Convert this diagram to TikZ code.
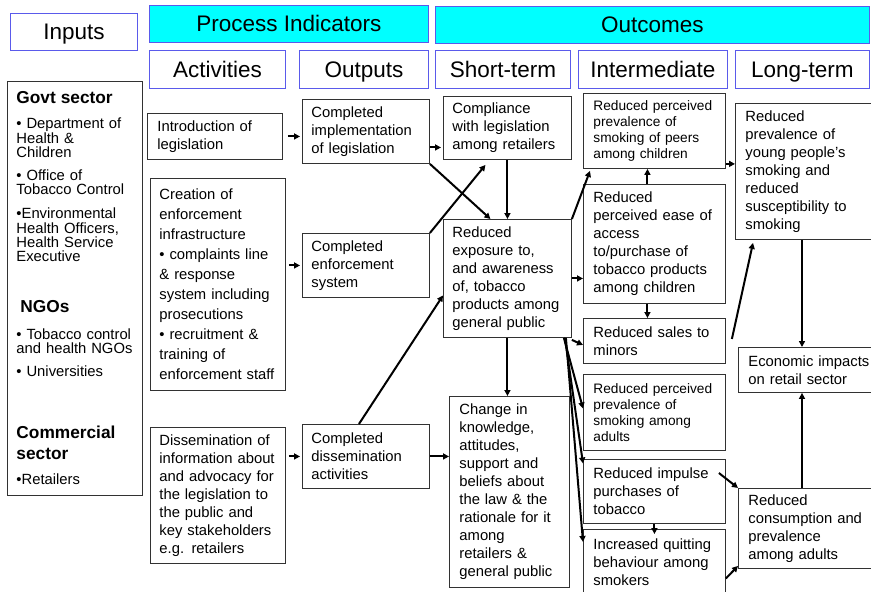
\documentclass[tikz,border=0pt]{standalone}
\usepackage{fontspec}
\setmainfont{Liberation Sans}
\usepackage{tikz}
\usetikzlibrary{arrows.meta}
\definecolor{headblue}{RGB}{90,90,235}
\definecolor{bandcyan}{RGB}{0,255,255}
\definecolor{boxgray}{RGB}{50,50,50}
\tikzset {
  x=1pt, y=-1pt,
  >={Triangle[length=6pt, width=6pt]},
  % column headings
  head/.style = {draw=headblue, line width=0.9pt, fill=white, anchor=north west,
    inner sep=0pt, minimum height=37pt, text height=16pt, text depth=0pt,
    font=\fontsize{22.5pt}{27pt}\selectfont},
  band/.style = {head, fill=bandcyan},
  % text boxes
  box/.style = {draw=boxgray, line width=0.9pt, anchor=north west, align=left,
    inner xsep=9pt, inner ysep=0pt, font=\fontsize{14.8pt}{18pt}\selectfont},
  small/.style = {font=\fontsize{13.7pt}{16.2pt}\selectfont},
  % arrows between boxes
  link/.style = {->, line width=2pt},
}

\begin{document}
\begin{tikzpicture}
  \useasboundingbox[fill=white] (0,0) rectangle (871,592);

  % headings
  \node[head, minimum width=127pt] (inputs) at (10,13) {Inputs};
  \node[band, minimum width=279pt] (process) at (149,5) {Process Indicators};
  \node[band, minimum width=434pt] (outcomes) at (435,6) {Outcomes};
  \node[head, minimum width=136pt, minimum height=38pt] (activities) at (149,50) {Activities};
  \node[head, minimum width=129pt, minimum height=38pt] (outputs) at (299,50) {Outputs};
  \node[head, minimum width=135pt, minimum height=38pt] (shortterm) at (435,50) {Short-term};
  \node[head, minimum width=149pt, minimum height=38pt] (intermediate) at (578,50) {Intermediate};
  \node[head, minimum width=134pt, minimum height=38pt] (longterm) at (735,50) {Long-term};

  % inputs
  \node[box, text width=117pt, minimum height=414pt,
    font=\fontsize{14.8pt}{14.3pt}\selectfont] (govt) at (7,81) {%
    {\bfseries\fontsize{17.3pt}{14.3pt}\selectfont Govt sector}\\[10.7pt]
    • Department of\\ Health \&\\ Children\\[8.7pt]
    • Office of\\ Tobacco Control\\[9.7pt]
    •Environmental\\ Health Officers,\\ Health Service\\ Executive\\[36.7pt]
    \hspace*{4pt}{\bfseries\fontsize{17.3pt}{14.3pt}\selectfont NGOs}\\[12.7pt]
    • Tobacco control\\ and health NGOs\\[8.7pt]
    • Universities\\[47.7pt]
    {\bfseries\fontsize{17.3pt}{14.3pt}\selectfont Commercial}\\[6.7pt]
    {\bfseries\fontsize{17.3pt}{14.3pt}\selectfont sector}\\[10.7pt]
    •Retailers};

  % activities
  \node[box, text width=115pt, inner xsep=10pt, minimum height=46pt] (intro) at (147,113)
    {Introduction of\\ legislation};
  \node[box, text width=117pt, minimum height=212pt,
    font=\fontsize{14.8pt}{20pt}\selectfont] (creation) at (150,178)
    {Creation of\\ enforcement\\ infrastructure\\ • complaints line\\ \& response\\
     system including\\ prosecutions\\ • recruitment \&\\ training of\\ enforcement staff};
  \node[box, text width=117pt, minimum height=136pt] (dissem) at (150,427)
    {Dissemination of\\ information about\\ and advocacy for\\ the legislation to\\
     the public and\\ key stakeholders\\ e.g. retailers};

  % outputs
  \node[box, text width=109pt, minimum height=64pt] (compimpl) at (302,99)
    {Completed\\ implementation\\ of legislation};
  \node[box, text width=109pt, minimum height=64pt] (compenf) at (302,233)
    {Completed\\ enforcement\\ system};
  \node[box, text width=109pt, minimum height=64pt] (compdiss) at (302,424)
    {Completed\\ dissemination\\ activities};

  % short-term outcomes
  \node[box, text width=110pt, minimum height=63pt] (compliance) at (443,96)
    {Compliance\\ with legislation\\ among retailers};
  \node[box, text width=110pt, minimum height=118pt] (exposure) at (443,219)
    {Reduced\\ exposure to,\\ and awareness\\ of, tobacco\\ products among\\ general public};
  \node[box, text width=100pt, inner xsep=10pt, minimum height=191pt] (change) at (449,396)
    {Change in\\ knowledge,\\ attitudes,\\ support and\\ beliefs about\\ the law \& the\\
     rationale for it\\ among\\ retailers \&\\ general public};

  % intermediate outcomes
  \node[box, small, text width=122pt, inner xsep=10pt, minimum height=75pt] (peers) at (583,93)
    {Reduced perceived\\ prevalence of\\ smoking of peers\\ among children};
  \node[box, text width=122pt, inner xsep=10pt, minimum height=119pt] (ease) at (583,184)
    {Reduced\\ perceived ease of\\ access\\ to/purchase of\\ tobacco products\\ among children};
  \node[box, text width=122pt, inner xsep=10pt, minimum height=45pt] (sales) at (583,318)
    {Reduced sales to\\ minors};
  \node[box, small, text width=122pt, inner xsep=10pt, minimum height=76pt] (adults) at (583,374)
    {Reduced perceived\\ prevalence of\\ smoking among\\ adults};
  \node[box, text width=122pt, inner xsep=10pt, minimum height=64pt] (impulse) at (583,459)
    {Reduced impulse\\ purchases of\\ tobacco};
  \node[box, text width=122pt, inner xsep=10pt, minimum height=65pt] (quitting) at (583,529)
    {Increased quitting\\ behaviour among\\ smokers};

  % long-term outcomes
  \node[box, text width=120pt, inner xsep=10pt, minimum height=136pt] (young) at (735,103)
    {Reduced\\ prevalence of\\ young people’s\\ smoking and\\ reduced\\ susceptibility to\\ smoking};
  \node[box, text width=130pt, inner xsep=10pt, minimum height=45pt] (economic) at (738,347)
    {Economic impacts\\ on retail sector};
  \node[box, text width=130pt, inner xsep=10pt, minimum height=80pt] (consumption) at (738,488)
    {Reduced\\ consumption and\\ prevalence\\ among adults};

  % activities to outputs
  \draw[link, shorten <=5pt, shorten >=2pt] (intro.east) -- (intro.east -| compimpl.west);
  \draw[link, shorten <=3pt, shorten >=2pt] (creation.east |- compenf.west) -- (compenf.west);
  \draw[link, shorten <=3pt, shorten >=2pt] (dissem.east |- compdiss.west) -- (compdiss.west);

  % outputs to short-term
  \draw[link, shorten >=2pt] ([yshift=-16pt]compimpl.east) -- ([yshift=-16pt]compimpl.east -| compliance.west);
  \draw[link] (compimpl.south east) -- ([xshift=-17pt]exposure.north);
  \draw[link] (compenf.north east) -- ([xshift=-22pt, yshift=-5pt]compliance.south);
  \draw[link] (compliance.south) -- (exposure.north);
  \draw[link] ([xshift=-7pt]compdiss.north) -- ([yshift=-17pt]exposure.west);
  \draw[link] (compdiss.east) -- (compdiss.east -| change.west);
  \draw[link] (exposure.south) -- (exposure.south |- change.north);

  % short-term to intermediate
  \draw[link] (exposure.north east) -- ([xshift=7pt, yshift=-2pt]peers.south west);
  \draw[link] (exposure.east) -- (exposure.east -| ease.west);
  \draw[link] ([xshift=-7pt]ease.north) -- ([xshift=-7pt]ease.north |- peers.south);
  \draw[link] ([xshift=-7pt]ease.south) -- ([xshift=-7pt]ease.south |- sales.north);
  \draw[link] ([yshift=-2pt]exposure.south east) -- ([yshift=-4pt]sales.west);
  \draw[link] ([xshift=-8pt]exposure.south east) -- ([yshift=4pt]adults.west);
  \draw[link] ([xshift=-7pt]exposure.south east) -- ([yshift=28pt]impulse.west);
  \draw[link] ([xshift=-6pt]exposure.south east) -- ([yshift=20pt]quitting.west);
  \draw[link] (impulse.south) -- ([yshift=-5pt]impulse.south |- quitting.north);

  % intermediate to long-term
  \draw[link] ([xshift=-7pt, yshift=-14pt]impulse.north east) -- (consumption.north west);
  \draw[link] ([yshift=-16.5pt]quitting.east) -- ([yshift=3pt]consumption.south west);
  \draw[link] ([yshift=5pt]peers.south east) -- ([yshift=5pt]peers.south east -| young.west);
  \draw[link] ([xshift=6pt, yshift=2pt]sales.east) -- ([xshift=18pt, yshift=-3pt]young.south west);
  \draw[link] ([xshift=67pt]young.south west) -- ([xshift=67pt]young.south west |- economic.north);
  \draw[link] ([xshift=64pt]consumption.north west) -- ([xshift=64pt]consumption.north west |- economic.south);
\end{tikzpicture}
\end{document}
